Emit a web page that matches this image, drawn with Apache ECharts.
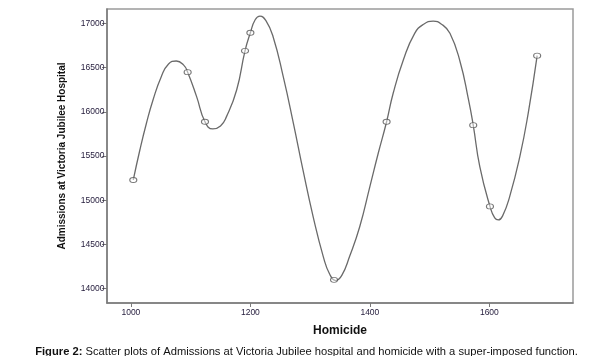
<!DOCTYPE html>
<html>
<head>
<meta charset="utf-8">
<script src="https://cdn.jsdelivr.net/npm/echarts@6/dist/echarts.min.js"></script>
<style>
html,body{margin:0;padding:0;background:#fff;}
#main{width:613px;height:356px;}
</style>
</head>
<body>
<div id="main"></div>
<script>
// Observed points
var homicide   = [1004, 1095, 1124, 1191, 1200, 1340, 1428, 1573, 1601, 1680];
var admissions = [15229, 16448, 15887, 16689, 16894, 14100, 15887, 15849, 14930, 16634];

// Super-imposed function
var curveX = [1004, 1015, 1026, 1037, 1051, 1063, 1076, 1088, 1095, 1110, 1124, 1137, 1150, 1160, 1177, 1191, 1200, 1208, 1216, 1226, 1238, 1255, 1272, 1288, 1305, 1322, 1333, 1343, 1353, 1366, 1383, 1400, 1414, 1428, 1439, 1456, 1475, 1490, 1506, 1520, 1534, 1551, 1565, 1573, 1584, 1601, 1609, 1615, 1622, 1634, 1651, 1665, 1680];
var curveY = [15229, 15568, 15870, 16133, 16400, 16540, 16574, 16530, 16448, 16171, 15887, 15806, 15840, 15945, 16246, 16689, 16894, 17040, 17082, 17030, 16849, 16397, 15870, 15342, 14815, 14363, 14160, 14092, 14150, 14363, 14700, 15154, 15531, 15887, 16209, 16585, 16887, 16990, 17026, 16990, 16887, 16566, 16140, 15849, 15380, 14930, 14800, 14777, 14820, 15041, 15493, 15983, 16634];

var xTicks = [1000, 1200, 1400, 1600];
var yTicks = [14000, 14500, 15000, 15500, 16000, 16500, 17000];

var xName = 'Homicide';
var yName = 'Admissions at Victoria Jubilee Hospital';
var captionBold = 'Figure 2:';
var captionText = ' Scatter plots of Admissions at Victoria Jubilee hospital and homicide with a super-imposed function.';

var FONT = 'Arial, "Liberation Sans", sans-serif';

var scatterData = homicide.map(function (x, i) { return [x, admissions[i]]; });
var curveData = curveX.map(function (x, i) { return [x, curveY[i]]; });

var chart = echarts.init(document.getElementById('main'), null, {renderer: 'canvas'});
chart.setOption({
  animation: false,
  backgroundColor: '#ffffff',
  title: {
    text: '{b|' + captionBold + '}{n|' + captionText + '}',
    left: 'center',
    top: 341,
    textStyle: {
      fontWeight: 'normal',
      rich: {
        b: {fontFamily: FONT, fontSize: 11.2, fontWeight: 'bold', color: '#111'},
        n: {fontFamily: FONT, fontSize: 11.2, fontWeight: 'normal', color: '#111'}
      }
    }
  },
  grid: {left: 107, top: 9, right: 40, bottom: 53, show: true, borderColor: '#9a9a9a', borderWidth: 1.5},
  xAxis: {
    type: 'value',
    min: 960,
    max: 1740,
    name: xName,
    nameLocation: 'middle',
    nameGap: 22,
    nameTextStyle: {fontFamily: FONT, fontSize: 12, fontWeight: 'bold', color: '#111'},
    splitLine: {show: false},
    axisLine: {show: true, onZero: false, lineStyle: {color: '#7a7a7a', width: 1.5}},
    axisTick: {show: true, length: 4, customValues: xTicks, lineStyle: {color: '#7a7a7a', width: 1}},
    axisLabel: {customValues: xTicks, margin: 5, fontFamily: FONT, fontSize: 8.5, color: '#221a3a',
      formatter: function (v) { return String(v); }}
  },
  yAxis: {
    type: 'value',
    min: 13838,
    max: 17162,
    name: yName,
    nameLocation: 'middle',
    nameRotate: 90,
    nameGap: 40,
    nameTextStyle: {fontFamily: FONT, fontSize: 10, fontWeight: 'bold', color: '#111'},
    splitLine: {show: false},
    axisLine: {show: true, onZero: false, lineStyle: {color: '#7a7a7a', width: 1.5}},
    axisTick: {show: true, length: 5, customValues: yTicks, lineStyle: {color: '#7a7a7a', width: 1}},
    axisLabel: {customValues: yTicks, margin: 2.5, fontFamily: FONT, fontSize: 8.5, color: '#221a3a',
      formatter: function (v) { return String(v); }}
  },
  series: [
    {
      type: 'line',
      data: curveData,
      smooth: 0.5,
      showSymbol: false,
      lineStyle: {color: '#6a6a6a', width: 1.3},
      z: 2
    },
    {
      type: 'scatter',
      data: scatterData,
      symbol: 'circle',
      symbolSize: [7, 5],
      itemStyle: {color: 'rgba(255,255,255,0.6)', borderColor: '#555', borderWidth: 1},
      z: 3
    }
  ]
});
</script>
</body>
</html>
